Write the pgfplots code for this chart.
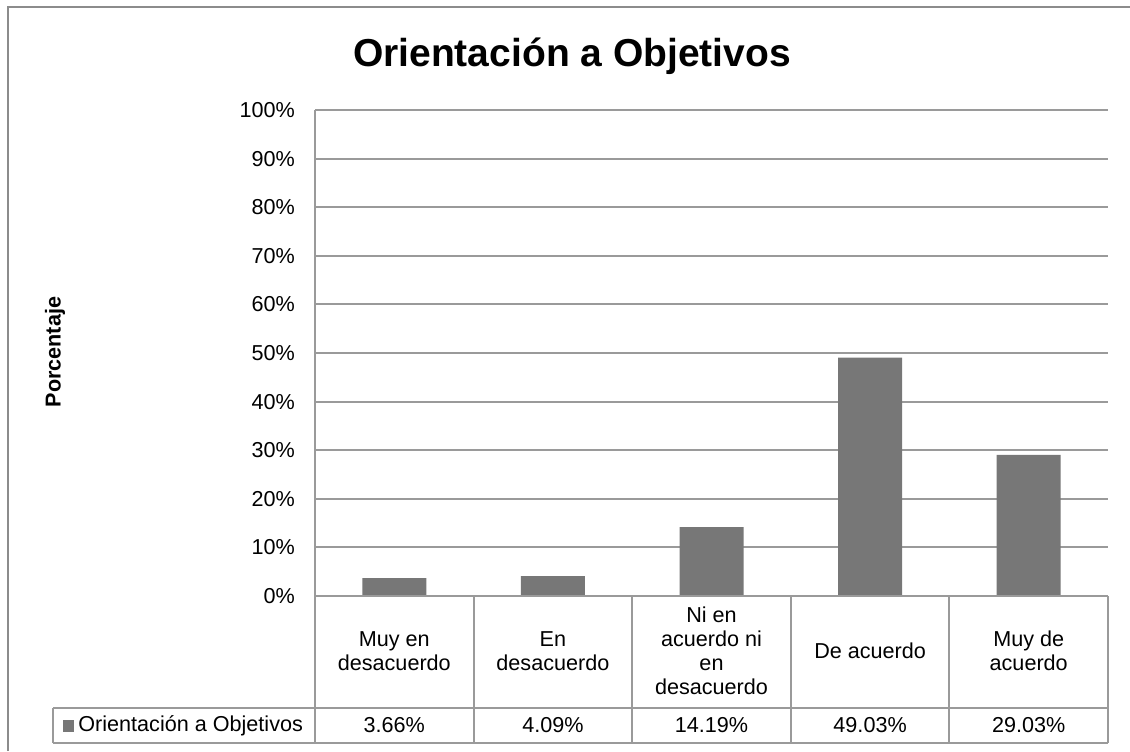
\documentclass[border=0pt]{standalone}
\usepackage{fontspec}
\setmainfont{Liberation Sans}
\usepackage{pgfplots}
\pgfplotsset{compat=1.18}

\definecolor{barcol}{HTML}{777777}
\definecolor{linecol}{HTML}{9A9A9A}
\definecolor{framecol}{HTML}{8C8C8C}
\newcommand{\lbl}{\fontsize{10.8}{12}\selectfont}

\begin{document}
\begin{tikzpicture}
\useasboundingbox (0,0) rectangle (565pt,375.5pt);

\begin{axis}[
    at={(157.5pt,77.5pt)}, anchor=south west,
    scale only axis,
    width=396.5pt, height=243pt,
    ybar, bar width=32pt,
    xmin=0.5, xmax=5.5,
    ymin=0, ymax=100,
    xtick=\empty,
    ytick={0,10,...,100},
    yticklabel={\pgfmathprintnumber{\tick}\%},
    /pgf/number format/assume math mode=true,
    yticklabel style={font=\lbl, xshift=-6.5pt},
    ymajorgrids,
    grid style={linecol, line width=1pt},
    axis line style={draw=none},
    major tick length=0pt,
    clip=false,
]
\addplot[fill=barcol, draw=none] coordinates {
    (1, 3.66)
    (2, 4.09)
    (3, 14.19)
    (4, 49.03)
    (5, 29.03)
};
\end{axis}

% outer chart frame (cropped on right and bottom)
\draw[framecol, line width=1pt] (4pt,0pt) -- (4pt,372pt) -- (565pt,372pt);

% title and y label
\node[font=\fontsize{19.5}{23}\selectfont\bfseries] at (286pt,347.5pt) {Orientación a Objetivos};
\node[font=\lbl\bfseries, rotate=90] at (27.5pt,199.5pt) {Porcentaje};

% data table
\draw[linecol, line width=1pt] (157.5pt,320.5pt) -- (157.5pt,4pt);
\draw[linecol, line width=1pt] (157.5pt,77.5pt) -- (554pt,77.5pt);
\draw[linecol, line width=1pt] (26.5pt,21.5pt) -- (554pt,21.5pt);
\draw[linecol, line width=1pt] (26.5pt,4pt) -- (554pt,4pt);
\draw[linecol, line width=1pt] (26.5pt,21.5pt) -- (26.5pt,4pt);
\foreach \cx in {236.8,316.1,395.4,474.7,554}
    \draw[linecol, line width=1pt] (\cx pt,77.5pt) -- (\cx pt,4pt);

\foreach \cx/\txt in {197.15/{Muy en\\desacuerdo}, 276.45/{En\\desacuerdo},
    355.75/{Ni en\\acuerdo ni\\en\\desacuerdo}, 435.05/{De acuerdo}, 514.35/{Muy de\\acuerdo}}
    \node[align=center, font=\lbl] at (\cx pt,50pt) {\txt};

\foreach \cx/\txt in {197.15/3.66\%, 276.45/4.09\%, 355.75/14.19\%, 435.05/49.03\%, 514.35/29.03\%}
    \node[font=\lbl] at (\cx pt,12.75pt) {\txt};

\fill[barcol] (31.5pt,9.5pt) rectangle (37pt,15.5pt);
\node[font=\lbl, anchor=west, inner sep=0pt] at (39pt,12.75pt) {Orientación a Objetivos};
\end{tikzpicture}
\end{document}
